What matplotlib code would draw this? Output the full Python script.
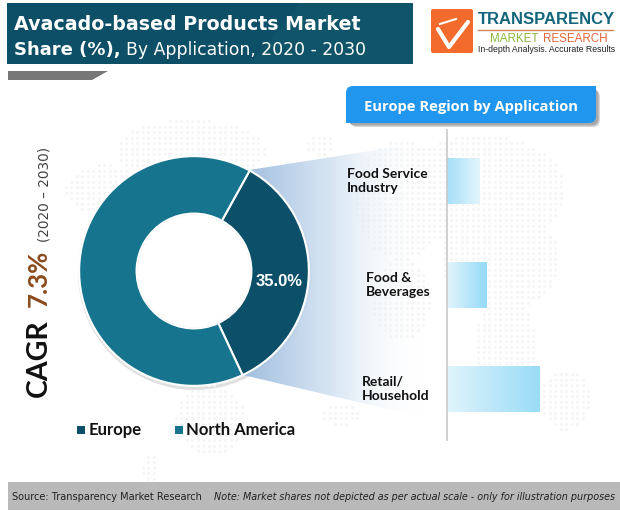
import numpy as np
import matplotlib
matplotlib.use("Agg")
import matplotlib.pyplot as plt
from matplotlib.colors import LinearSegmentedColormap
from matplotlib.patches import Circle, FancyBboxPatch, Polygon, Rectangle

# --- data ---
SHARE_LABELS = ["Europe", "North America"]
SHARE_VALUES = [35.0, 65.0]
SHARE_COLORS = ["#0b4f68", "#17748f"]
APP_LABELS = ["Food Service\nIndustry", "Food &\nBeverages", "Retail/\nHousehold"]
APP_VALUES = [33, 40, 93]  # no scale in the chart, read as bar length
APP_LABEL_X = [347, 366, 362]
APP_GRADIENT = [("#a5e0f8", "#e2f5fd"), ("#e2f5fd", "#95daf7"), ("#dff4fc", "#9adcf7")]

W, H = 620, 511
plt.rcParams["font.family"] = ["Lato", "DejaVu Sans"]

fig = plt.figure(figsize=(W / 100, H / 100), dpi=100, facecolor="white")


def px_axes(x0, y0, x1, y1, **kw):
    return fig.add_axes([x0 / W, 1 - y1 / H, (x1 - x0) / W, (y1 - y0) / H], **kw)


# --- background in pixel coords ---
bg = px_axes(0, 0, W, H)
bg.set_xlim(0, W)
bg.set_ylim(H, 0)
bg.axis("off")

# donut shadow goes under the map dots
bg.add_patch(Circle((195, 273), 117, fc="#d4d4d4", ec="none", alpha=0.7, zorder=0.5))

# faint dotted world map
blobs = [(190, 150, 75, 30), (105, 190, 40, 25), (210, 420, 35, 35), (150, 470, 8, 15),
         (480, 190, 85, 55), (500, 260, 60, 50), (505, 345, 30, 50), (565, 400, 25, 30),
         (400, 200, 45, 60), (400, 300, 30, 40), (340, 415, 20, 10), (320, 145, 15, 10)]
gx, gy = np.meshgrid(np.arange(60, 610, 5.5), np.arange(105, 480, 5.5))
mask = np.zeros_like(gx, dtype=bool)
for cx, cy, rx, ry in blobs:
    mask |= ((gx - cx) / rx) ** 2 + ((gy - cy) / ry) ** 2 < 1
bg.scatter(gx[mask], gy[mask], s=5, color="#f5f5f5", lw=0, zorder=0.7)

# gradient funnel from the Europe slice
funnel = Polygon([(249, 170), (447, 139), (447, 423), (243, 375)], closed=True, fc="none", ec="none")
bg.add_patch(funnel)
cm_f = LinearSegmentedColormap.from_list("f", [(0.62, 0.74, 0.87, 1), (0.83, 0.89, 0.95, 0.9), (1, 1, 1, 0)])
im = bg.imshow(np.linspace(0, 1, 256).reshape(1, -1), cmap=cm_f, extent=(240, 425, 440, 120),
               aspect="auto", zorder=1)
im.set_clip_path(funnel)
bg.set_xlim(0, W)
bg.set_ylim(H, 0)

# hole of the donut, above shadow and funnel
bg.add_patch(Circle((194, 271), 57, fc="white", ec="#e4e4e4", lw=1, zorder=1.5))

# title banner
bg.add_patch(Rectangle((7, 3), 406, 61, fc="#0c4f66", ec="none", zorder=2))
bg.add_patch(Polygon([(250, 64), (300, 3), (413, 3), (413, 64)], fc="#0f5468", ec="none", zorder=2))
bg.add_patch(Polygon([(8, 71), (108, 71), (92, 80), (8, 80)], fc="#777777", ec="none", zorder=2))
bg.text(14, 24, "Avacado-based Products Market", color="white", fontsize=13.7, fontweight="bold",
        va="center", zorder=3, family=["DejaVu Sans"])
bg.text(14, 50, "Share (%),", color="white", fontsize=13, fontweight="bold", va="center", zorder=3,
        family=["DejaVu Sans"])
bg.text(126, 50, "By Application, 2020 - 2030", color="white", fontsize=12.4, va="center", zorder=3,
        family=["DejaVu Sans"])

# logo
bg.add_patch(FancyBboxPatch((431, 9), 42, 44, boxstyle="round,pad=0,rounding_size=2", fc="#f26b2c",
                            ec="none", zorder=2))
bg.plot([438, 449, 468], [29, 47, 22], color="white", lw=3, zorder=3, solid_capstyle="round")
bg.plot([440, 456], [24, 19], color="white", lw=1.5, zorder=3)
bg.text(478, 20, "TRANSPARENCY", color="#13667c", fontsize=12, fontweight="bold", va="center", zorder=3,
        family=["Liberation Sans"])
bg.plot([478, 613], [30.5, 30.5], color="#d9825a", lw=1, zorder=3)
bg.text(490, 39, "MARKET", color="#8cb63c", fontsize=8.4, va="center", zorder=3, family=["Liberation Sans"])
bg.text(543, 39, "RESEARCH", color="#e2673a", fontsize=8.4, va="center", zorder=3, family=["Liberation Sans"])
bg.text(478, 50, "In-depth Analysis. Accurate Results", color="#222222", fontsize=6.3, va="center", zorder=3,
        family=["Liberation Sans"])

# tab over the bars
for off, col in [(4, "#d5d5d5"), (2.5, "#a8a8a8")]:
    bg.add_patch(FancyBboxPatch((346 + off, 86 + off), 250, 37, boxstyle="round,pad=0,rounding_size=7",
                                fc=col, ec="none", zorder=2))
bg.add_patch(FancyBboxPatch((346, 86), 250, 37, boxstyle="round,pad=0,rounding_size=7", fc="#2196ef",
                            ec="none", zorder=3))
bg.add_patch(Rectangle((585, 86), 11, 12, fc="#2196ef", ec="none", zorder=3))
bg.add_patch(Rectangle((346, 112), 12, 11, fc="#2196ef", ec="none", zorder=3))
bg.text(471, 107, "Europe Region by Application", color="white", fontsize=10.6, fontweight="bold", ha="center",
        va="center", zorder=4, family=["Open Sans"])

# CAGR text, rotated
bg.text(39, 397, "CAGR", rotation=90, color="#111111", fontsize=20.5, fontweight="bold", ha="center", va="bottom",
        zorder=3)
bg.text(39, 307, "7.3%", rotation=90, color="#8a4a1c", fontsize=18.5, fontweight="bold", ha="center", va="bottom",
        zorder=3)
bg.text(45, 242, "(2020 – 2030)", rotation=90, color="#444444", fontsize=9.8, ha="center", va="bottom", zorder=3,
        family=["DejaVu Sans"])

# footer
bg.add_patch(Rectangle((8, 482), 612, 28, fc="#b9b9b9", ec="none", zorder=2))
bg.text(12, 497, "Source: Transparency Market Research", color="#222222", fontsize=7, va="center", zorder=3,
        family=["DejaVu Sans"])
bg.text(214, 497, "Note: Market shares not depicted as per actual scale - only for illustration purposes",
        color="#222222", fontsize=6.9, va="center", zorder=3, family=["DejaVu Sans"], style="italic")

# legend
for x_sq, x_txt, lab, col in zip([77, 175], [89, 186], SHARE_LABELS, SHARE_COLORS):
    bg.add_patch(Rectangle((x_sq, 426), 8, 8, fc=col, ec="none", zorder=3))
    bg.text(x_txt, 430, lab, color="#111111", fontsize=12, fontweight="bold", va="center", zorder=3)

# category labels
for lab, lx, cy in zip(APP_LABELS, APP_LABEL_X, [181, 285, 389]):
    bg.text(lx, cy, lab, color="#111111", fontsize=10, fontweight="bold", va="center", zorder=3, linespacing=1.25)

# --- donut ---
ax_pie = px_axes(194 - 116, 271 - 116, 194 + 116, 271 + 116)
ax_pie.patch.set_alpha(0)
wedges, _ = ax_pie.pie(SHARE_VALUES, colors=SHARE_COLORS, startangle=-65, radius=1, counterclock=True,
                       wedgeprops=dict(width=0.5, edgecolor="white", linewidth=1.5))
ax_pie.set_xlim(-1.01, 1.01)
ax_pie.set_ylim(-1.01, 1.01)
ax_pie.text(0.74, -0.09, f"{SHARE_VALUES[0]:.1f}%", color="white", fontsize=12, fontweight="bold", ha="center",
            va="center", family=["Liberation Sans"])

# --- bars ---
ax_bar = px_axes(447, 130, 620, 440)
ax_bar.patch.set_alpha(0)
ax_bar.set_xlim(0, 173)
ax_bar.set_ylim(2.49, -0.49)
bars = ax_bar.barh(range(len(APP_VALUES)), APP_VALUES, height=0.44, color="none")
for bar, (c0, c1), val, i in zip(bars, APP_GRADIENT, APP_VALUES, range(3)):
    cm = LinearSegmentedColormap.from_list("b", [c0, c1])
    im = ax_bar.imshow(np.linspace(0, 1, 64).reshape(1, -1), cmap=cm, aspect="auto",
                       extent=(0, val, i + 0.22, i - 0.22))
    im.set_clip_path(bar)
ax_bar.set_xlim(0, 173)
ax_bar.set_ylim(2.49, -0.49)
for s in ["top", "right", "bottom"]:
    ax_bar.spines[s].set_visible(False)
ax_bar.spines["left"].set_color("#c9c9c9")
ax_bar.spines["left"].set_linewidth(1.2)
ax_bar.set_xticks([])
ax_bar.set_yticks([])

fig.savefig("out.png", dpi=100)
